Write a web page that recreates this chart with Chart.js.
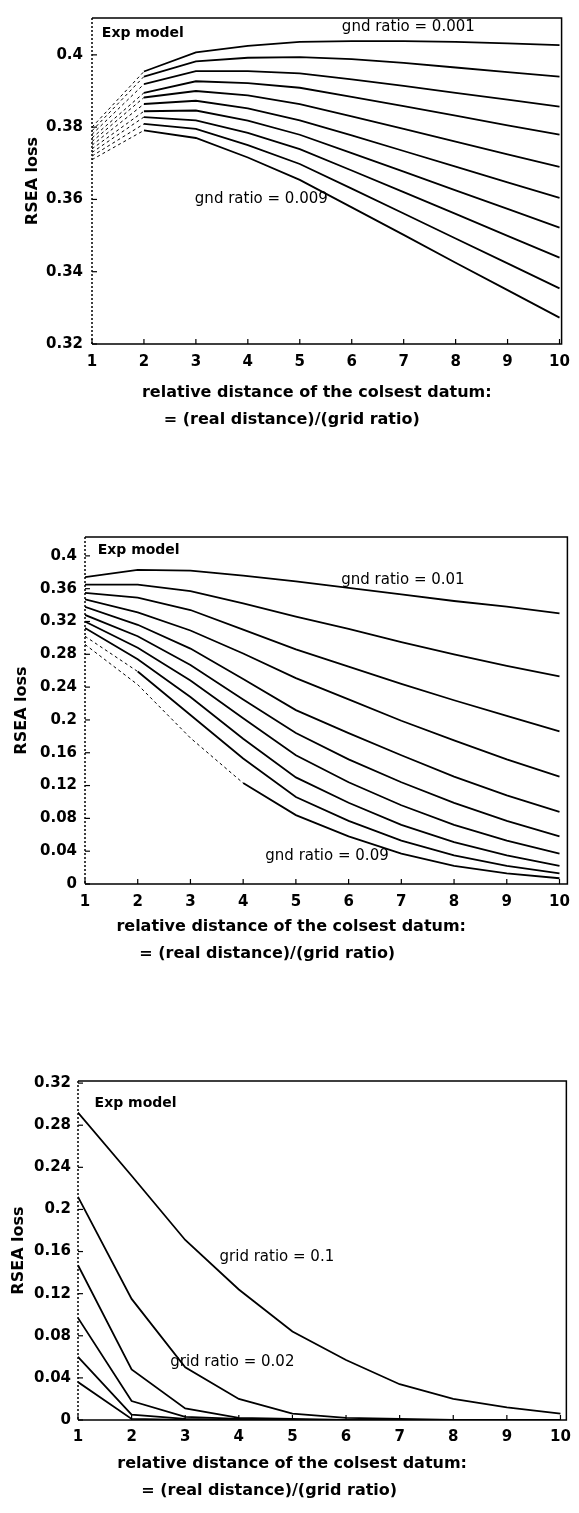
<!DOCTYPE html>
<html>
<head>
<meta charset="utf-8">
<script src="https://cdn.jsdelivr.net/npm/chart.js@4.4.0/dist/chart.umd.min.js"></script>
<style>
  html, body { margin: 0; padding: 0; background: #fff; }
  body { width: 579px; height: 1513px; position: relative; overflow: hidden; }
  .panel { position: absolute; left: 0; width: 579px; }
</style>
</head>
<body>
<div class="panel" style="top:0;height:440px"><canvas id="chartFine"></canvas></div>
<div class="panel" style="top:500px;height:470px"><canvas id="chartMid"></canvas></div>
<div class="panel" style="top:1050px;height:463px"><canvas id="chartCoarse"></canvas></div>
<script>
// relative distance of the closest datum
const distance = [1, 2, 3, 4, 5, 6, 7, 8, 9, 10];

// top panel: grid ratio 0.001 (top) ... 0.010 (bottom)
const lossFine = [
  [0.380, 0.3954, 0.4007, 0.4025, 0.4036, 0.4038, 0.4038, 0.4036, 0.4032, 0.4027],
  [0.379, 0.3940, 0.3982, 0.3992, 0.3994, 0.3988, 0.3978, 0.3965, 0.3952, 0.3940],
  [0.378, 0.3919, 0.3955, 0.3955, 0.3949, 0.3932, 0.3914, 0.3895, 0.3876, 0.3857],
  [0.377, 0.3895, 0.3927, 0.3922, 0.3909, 0.3884, 0.3858, 0.3832, 0.3805, 0.3779],
  [0.376, 0.3882, 0.3900, 0.3888, 0.3864, 0.3830, 0.3795, 0.3760, 0.3725, 0.3690],
  [0.375, 0.3864, 0.3873, 0.3852, 0.3819, 0.3777, 0.3734, 0.3691, 0.3647, 0.3604],
  [0.374, 0.3844, 0.3846, 0.3818, 0.3779, 0.3728, 0.3677, 0.3625, 0.3574, 0.3522],
  [0.373, 0.3828, 0.3819, 0.3784, 0.3739, 0.3680, 0.3620, 0.3560, 0.3499, 0.3439],
  [0.372, 0.3809, 0.3795, 0.3750, 0.3698, 0.3630, 0.3561, 0.3492, 0.3423, 0.3354],
  [0.371, 0.3791, 0.3770, 0.3716, 0.3654, 0.3578, 0.3502, 0.3425, 0.3349, 0.3273]
];
const fineTicks = [0.32, 0.34, 0.36, 0.38, 0.4];
const fineTickLabels = ['0.32', '0.34', '0.36', '0.38', '0.4'];

// middle panel: grid ratio 0.01 (top) ... 0.10 (bottom)
const lossMid = [
  [0.374, 0.383, 0.382, 0.376, 0.369, 0.361, 0.353, 0.345, 0.338, 0.330],
  [0.365, 0.365, 0.357, 0.342, 0.326, 0.311, 0.295, 0.280, 0.266, 0.253],
  [0.355, 0.349, 0.334, 0.310, 0.286, 0.265, 0.244, 0.224, 0.205, 0.186],
  [0.347, 0.331, 0.309, 0.281, 0.251, 0.225, 0.199, 0.175, 0.152, 0.131],
  [0.338, 0.316, 0.287, 0.250, 0.212, 0.184, 0.157, 0.131, 0.108, 0.088],
  [0.328, 0.302, 0.267, 0.225, 0.184, 0.152, 0.124, 0.099, 0.077, 0.058],
  [0.320, 0.288, 0.248, 0.202, 0.157, 0.124, 0.096, 0.072, 0.053, 0.037],
  [0.312, 0.274, 0.228, 0.177, 0.130, 0.099, 0.072, 0.051, 0.035, 0.022],
  [0.302, 0.259, 0.206, 0.153, 0.106, 0.077, 0.053, 0.035, 0.022, 0.013],
  [0.292, 0.243, 0.178, 0.123, 0.084, 0.058, 0.037, 0.022, 0.013, 0.007]
];
const midTicks = [0, 0.04, 0.08, 0.12, 0.16, 0.2, 0.24, 0.28, 0.32, 0.36, 0.4];
const midTickLabels = ['0', '0.04', '0.08', '0.12', '0.16', '0.2', '0.24', '0.28', '0.32', '0.36', '0.4'];

// bottom panel: coarse grid ratios
const lossCoarse = [
  [0.292, 0.232, 0.171, 0.124, 0.084, 0.057, 0.034, 0.020, 0.012, 0.006],
  [0.212, 0.115, 0.050, 0.020, 0.006, 0.002, 0.001, 0.000, 0.000, 0.000],
  [0.147, 0.048, 0.011, 0.002, 0.001, 0.000, 0.000, 0.000, 0.000, 0.000],
  [0.097, 0.018, 0.003, 0.001, 0.000, 0.000, 0.000, 0.000, 0.000, 0.000],
  [0.060, 0.005, 0.001, 0.000, 0.000, 0.000, 0.000, 0.000, 0.000, 0.000],
  [0.036, 0.001, 0.000, 0.000, 0.000, 0.000, 0.000, 0.000, 0.000, 0.000]
];
const coarseTicks = [0, 0.04, 0.08, 0.12, 0.16, 0.2, 0.24, 0.28, 0.32];
const coarseTickLabels = ['0', '0.04', '0.08', '0.12', '0.16', '0.2', '0.24', '0.28', '0.32'];

const FONT = "'DejaVu Sans', sans-serif";
const xTitle = ['relative distance of the colsest datum:', '= (real distance)/(grid ratio)'];

// frame, inward ticks, notes and the two-line x title
function panelDecor(p) {
  return {
    id: 'panelDecor',
    afterDatasetsDraw(chart) {
      const { ctx, chartArea: a, scales: { x, y } } = chart;
      ctx.save();
      ctx.strokeStyle = '#000';
      ctx.lineWidth = 1.5;
      ctx.beginPath();
      ctx.moveTo(a.left, a.top);
      ctx.lineTo(a.right, a.top);
      ctx.lineTo(a.right, a.bottom);
      ctx.lineTo(a.left, a.bottom);
      ctx.stroke();
      // left edge looks dotted in the scan
      ctx.setLineDash([2, 2]);
      ctx.beginPath();
      ctx.moveTo(a.left, a.top);
      ctx.lineTo(a.left, a.bottom);
      ctx.stroke();
      ctx.setLineDash([]);

      ctx.lineWidth = 1.2;
      x.ticks.forEach(t => {
        const px = x.getPixelForValue(t.value);
        ctx.beginPath();
        ctx.moveTo(px, a.bottom);
        ctx.lineTo(px, a.bottom - 5);
        ctx.stroke();
      });
      y.ticks.forEach(t => {
        const py = y.getPixelForValue(t.value);
        ctx.beginPath();
        ctx.moveTo(a.left, py);
        ctx.lineTo(a.left + 5, py);
        ctx.stroke();
      });

      ctx.fillStyle = '#000';
      ctx.textBaseline = 'middle';
      ctx.textAlign = 'left';
      p.notes.forEach(n => {
        ctx.font = n.bold ? 'bold 14px ' + FONT : '15px ' + FONT;
        ctx.fillText(n.text, x.getPixelForValue(n.x), y.getPixelForValue(n.y));
      });

      ctx.font = 'bold 16px ' + FONT;
      ctx.textAlign = 'center';
      const mid = (a.left + a.right) / 2;
      xTitle.forEach((line, i) => {
        ctx.fillText(line, mid + p.titleShift[i], a.bottom + p.titleDrop[i]);
      });
      ctx.restore();
    }
  };
}

function drawPanel(canvasId, p) {
  return new Chart(document.getElementById(canvasId), {
    type: 'line',
    data: {
      datasets: p.series.map((vals, i) => ({
        data: vals.map((v, j) => ({ x: distance[j], y: v })),
        borderColor: '#000',
        borderWidth: 1.8,
        pointRadius: 0,
        tension: 0,
        fill: false,
        segment: {
          borderDash: c => (c.p1DataIndex <= (p.dashTo[i] || 0) ? [3, 3] : undefined),
          borderWidth: c => (c.p1DataIndex <= (p.dashTo[i] || 0) ? 1 : undefined)
        }
      }))
    },
    options: {
      responsive: true,
      maintainAspectRatio: false,
      animation: false,
      layout: { padding: { top: p.padTop, right: p.padRight, left: 0, bottom: 0 } },
      plugins: { legend: { display: false }, tooltip: { enabled: false } },
      scales: {
        x: {
          type: 'linear',
          min: 1,
          max: p.xMax,
          grid: { display: false, drawTicks: false },
          border: { display: false },
          afterBuildTicks: s => { s.ticks = distance.map(v => ({ value: v })); },
          afterFit: s => { s.height = p.xAxisHeight; },
          ticks: { color: '#000', font: { family: FONT, size: 15, weight: 'bold' }, padding: p.xPad, maxRotation: 0, autoSkip: false }
        },
        y: {
          type: 'linear',
          min: p.yMin,
          max: p.yMax,
          grid: { display: false, drawTicks: false },
          border: { display: false },
          afterBuildTicks: s => { s.ticks = p.yTicks.map(v => ({ value: v })); },
          afterFit: s => { s.width = p.yAxisWidth; },
          ticks: {
            color: '#000',
            font: { family: FONT, size: 15, weight: 'bold' },
            padding: p.yPad,
            autoSkip: false,
            callback: (v, idx) => p.yLabels[idx]
          },
          title: {
            display: true,
            text: 'RSEA loss',
            color: '#000',
            font: { family: FONT, size: 16, weight: 'bold' },
            padding: { top: p.yTitlePad, bottom: 0 }
          }
        }
      }
    },
    plugins: [panelDecor(p)]
  });
}

drawPanel('chartFine', {
  series: lossFine,
  dashTo: lossFine.map(() => 1),
  yTicks: fineTicks, yLabels: fineTickLabels,
  yMin: 0.32, yMax: 0.4102, xMax: 10.04,
  padTop: 8, padRight: 12, xAxisHeight: 96, yAxisWidth: 92, xPad: 9, yPad: 9, yTitlePad: 23,
  titleShift: [-10, -35], titleDrop: [49, 76],
  notes: [
    { text: 'Exp model', x: 1.19, y: 0.4059, bold: true },
    { text: 'gnd ratio = 0.001', x: 5.81, y: 0.4077 },
    { text: 'gnd ratio = 0.009', x: 2.98, y: 0.3600 }
  ]
});

drawPanel('chartMid', {
  series: lossMid,
  dashTo: [0, 0, 0, 0, 0, 0, 0, 0, 1, 3],
  yTicks: midTicks, yLabels: midTickLabels,
  yMin: 0, yMax: 0.423, xMax: 10.15,
  padTop: 37, padRight: 4, xAxisHeight: 86, yAxisWidth: 85, xPad: 9, yPad: 8, yTitlePad: 12,
  titleShift: [-35, -59], titleDrop: [43, 70],
  notes: [
    { text: 'Exp model', x: 1.24, y: 0.4073, bold: true },
    { text: 'gnd ratio = 0.01', x: 5.86, y: 0.3707 },
    { text: 'gnd ratio = 0.09', x: 4.42, y: 0.034 }
  ]
});

drawPanel('chartCoarse', {
  series: lossCoarse,
  dashTo: [],
  yTicks: coarseTicks, yLabels: coarseTickLabels,
  yMin: 0, yMax: 0.322, xMax: 10.11,
  padTop: 31, padRight: 8, xAxisHeight: 93, yAxisWidth: 78, xPad: 8, yPad: 7, yTitlePad: 9,
  titleShift: [-30, -53], titleDrop: [44, 71],
  notes: [
    { text: 'Exp model', x: 1.31, y: 0.301, bold: true },
    { text: 'grid ratio = 0.1', x: 3.64, y: 0.155 },
    { text: 'grid ratio = 0.02', x: 2.72, y: 0.055 }
  ]
});
</script>
</body>
</html>
